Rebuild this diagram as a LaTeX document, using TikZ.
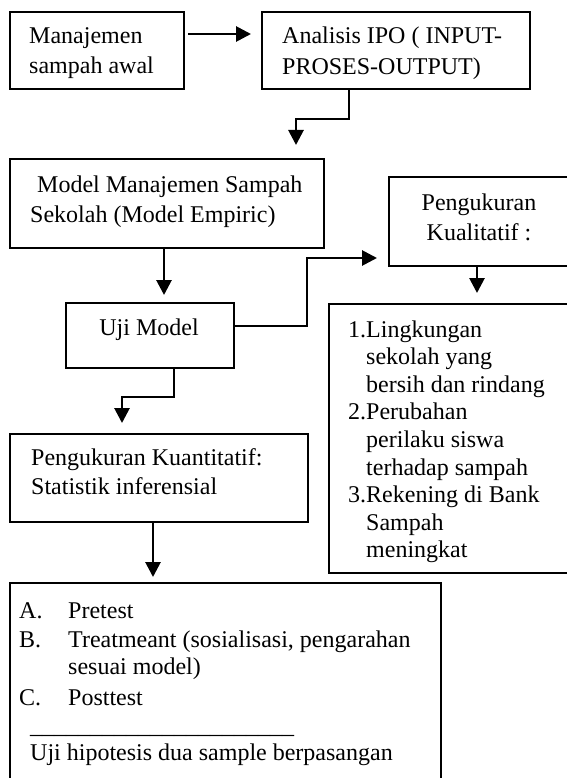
\documentclass[tikz,border=0pt]{standalone}
\usepackage{fontspec}
\setmainfont{Liberation Serif}
\usetikzlibrary{arrows.meta}
\begin{document}
\begin{tikzpicture}[x=1pt,y=1pt,
  box/.style={draw, line width=2pt, anchor=north west, inner sep=0pt},
  txt/.style={inner sep=0pt, text=black},
  arr/.style={line width=2.8pt, -{Triangle[length=15pt,width=15pt]}}]
\useasboundingbox (0,0) rectangle (566,-778);
\fill[white] (0,0) rectangle (566,-778);

% boxes
\node[box, minimum width=174pt, minimum height=77pt]  (b1) at (9,-11) {};
\node[box, minimum width=268pt, minimum height=77pt]  (b2) at (261,-11) {};
\node[box, minimum width=314pt, minimum height=89pt]  (b3) at (9,-158) {};
\node[box, minimum width=182pt, minimum height=89pt]  (b4) at (388,-176) {};
\node[box, minimum width=168pt, minimum height=65pt]  (bu) at (65,-302) {};
\node[box, minimum width=272pt, minimum height=269pt] (b5) at (328,-303) {};
\node[box, minimum width=298pt, minimum height=88pt]  (b6) at (9,-433) {};
\node[box, minimum width=431pt, minimum height=220pt] (b7) at (9,-582) {};

% texts
\node[txt, anchor=base west] (t1) at (29,-44) {\fontsize{24}{30}\selectfont
  \begin{tabular}[t]{@{}l@{}}Manajemen\\ sampah awal\end{tabular}};
\node[txt, anchor=base west] (t2) at (282,-44) {\fontsize{24}{30.5}\selectfont
  \begin{tabular}[t]{@{}l@{}}Analisis IPO ( INPUT-\\ PROSES-OUTPUT)\end{tabular}};
\node[txt, anchor=base west] (t3) at (30,-192) {\fontsize{24}{30}\selectfont
  \begin{tabular}[t]{@{}l@{}}\hspace{7pt}Model Manajemen Sampah\\ Sekolah (Model Empiric)\end{tabular}};
\node[txt, anchor=base] (t4) at (479,-210) {\fontsize{24}{30}\selectfont
  \begin{tabular}[t]{@{}c@{}}Pengukuran\\ Kualitatif :\end{tabular}};
\node[txt, anchor=base] (tu) at (149,-335) {\fontsize{24}{27.6}\selectfont Uji Model};
\node[txt, anchor=base west] (t5) at (348,-337) {\fontsize{24}{27.6}\selectfont
  \begin{tabular}[t]{@{}l@{}l@{}}1.&Lingkungan\\ &sekolah yang\\ &bersih dan rindang\\
  2.&Perubahan\\ &perilaku siswa\\ &terhadap sampah\\ 3.&Rekening di Bank\\ &Sampah\\ &meningkat\end{tabular}};
\node[txt, anchor=base west] (t6) at (31,-465) {\fontsize{24}{29}\selectfont
  \begin{tabular}[t]{@{}l@{}}Pengukuran Kuantitatif:\\ Statistik inferensial\end{tabular}};
\node[txt, anchor=base west] (t7) at (19,-618) {\fontsize{24}{27}\selectfont
  \begin{tabular}[t]{@{}l@{}l@{}}\makebox[49pt][l]{A.}&Pretest\\[2pt]
  B.&Treatmeant (sosialisasi, pengarahan\\
  &sesuai model)\\[4pt]
  C.&Posttest\\[1pt]
  \multicolumn{2}{@{}l@{}}{\hspace{11pt}\_\_\_\_\_\_\_\_\_\_\_\_\_\_\_\_\_\_\_\_\_\_}\\
  \multicolumn{2}{@{}l@{}}{\hspace{11pt}Uji hipotesis dua sample berpasangan}\end{tabular}};

% connectors
\draw[arr] ([shift={(3pt,-23pt)}]b1.north east) -- ([shift={(-10pt,-23pt)}]b2.north west);
\draw[arr] ([xshift=-47pt]b2.south) -- ++(0,-29) -| ([xshift=129pt,yshift=13pt]b3.north);
\draw[arr] ([xshift=-3pt]b3.south) -- ([xshift=14pt,yshift=7pt]bu.north);
\draw[arr] ([yshift=9.5pt]bu.east) -- ++(72,0) |- ([xshift=-11pt,yshift=-36.5pt]b4.west);
\draw[arr] ([xshift=-3pt]b4.south) -- ([xshift=12pt,yshift=10pt]b5.north);
\draw[arr] ([xshift=24pt]bu.south) -- ++(0,-28) -| ([xshift=-37pt,yshift=10pt]b6.north);
\draw[arr] ([xshift=-6pt]b6.south) -- ([xshift=-72.5pt,yshift=5pt]b7.north);
\end{tikzpicture}
\end{document}
